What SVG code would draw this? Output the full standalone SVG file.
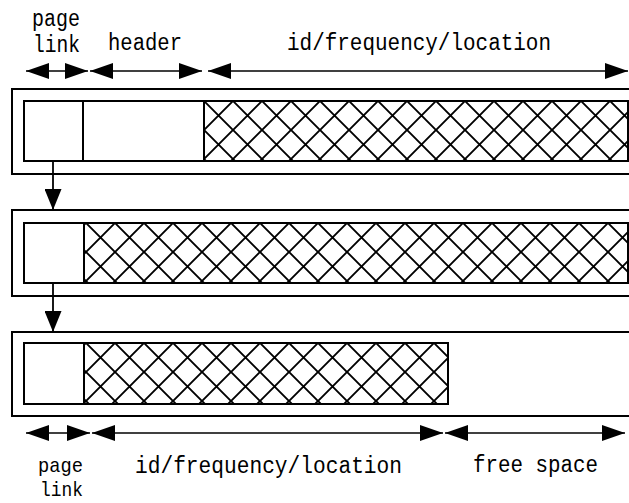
<svg xmlns="http://www.w3.org/2000/svg" width="629" height="503" viewBox="0 0 629 503">
<style>
.box{fill:#fff;stroke:#000;stroke-width:2}
.cell{fill:#fff;stroke:#000;stroke-width:2}
.hatch{fill:url(#xh);stroke:#000;stroke-width:2}
.dim{stroke:#000;stroke-width:1.6;fill:none;marker-start:url(#ah);marker-end:url(#ah)}
.link{stroke:#000;stroke-width:1.8;fill:none;marker-end:url(#av)}
text{font-family:"Liberation Mono","DejaVu Sans Mono",monospace;font-size:23px;fill:#000}
.sm{font-size:21px}
</style>
<defs>
<marker id="ah" markerUnits="userSpaceOnUse" markerWidth="23" markerHeight="16" refX="23" refY="8" orient="auto-start-reverse" viewBox="0 0 23 16">
<path d="M0,0 L23,8 L0,16 Z" fill="#000"/>
</marker>
<marker id="av" markerUnits="userSpaceOnUse" markerWidth="21" markerHeight="17" refX="21" refY="8.5" orient="auto" viewBox="0 0 21 17">
<path d="M0,0 L21,8.5 L0,17 Z" fill="#000"/>
</marker>
<pattern id="xh" patternUnits="userSpaceOnUse" width="29" height="29">
<rect width="29" height="29" fill="#fff"/>
<path d="M0,0 L29,29 M0,29 L29,0" stroke="#000" stroke-width="1.9" fill="none"/>
</pattern>
</defs>

<g id="labels-top">
<text x="32" y="26" textLength="48" lengthAdjust="spacingAndGlyphs">page</text>
<text x="33" y="52" textLength="47" lengthAdjust="spacingAndGlyphs">link</text>
<text x="108" y="50" textLength="74" lengthAdjust="spacingAndGlyphs">header</text>
<text x="287" y="50" textLength="264" lengthAdjust="spacingAndGlyphs">id/frequency/location</text>
</g>

<g id="dims">
<line class="dim" x1="26" y1="71" x2="88" y2="71"/>
<line class="dim" x1="90" y1="71" x2="202" y2="71"/>
<line class="dim" x1="208" y1="71" x2="628" y2="71"/>
<line class="dim" x1="26" y1="433" x2="90" y2="433"/>
<line class="dim" x1="92" y1="433" x2="443" y2="433"/>
<line class="dim" x1="445" y1="433" x2="625" y2="433"/>
</g>

<g id="page1">
<rect class="box" x="12" y="89" width="640" height="85"/>
<rect class="cell" x="24" y="101" width="612" height="60"/>
<g transform="translate(204,101)"><rect class="hatch" x="0" y="0" width="424" height="60"/></g>
<line x1="83" y1="101" x2="83" y2="161" stroke="#000" stroke-width="2"/>
</g>

<g id="page2">
<rect class="box" x="12" y="210" width="640" height="86"/>
<g transform="translate(86,223)"><rect class="hatch" x="-2" y="0" width="544" height="60"/></g>
<rect x="24" y="223" width="604" height="60" fill="none" stroke="#000" stroke-width="2"/>
<line x1="84" y1="223" x2="84" y2="283" stroke="#000" stroke-width="2"/>
</g>

<g id="page3">
<rect class="box" x="12" y="332" width="640" height="84"/>
<g transform="translate(86,343)"><rect class="hatch" x="-2" y="0" width="364" height="61"/></g>
<rect x="24" y="343" width="424" height="61" fill="none" stroke="#000" stroke-width="2"/>
<line x1="84" y1="343" x2="84" y2="404" stroke="#000" stroke-width="2"/>
</g>

<g id="connectors">
<line class="link" x1="53" y1="161" x2="53" y2="210"/>
<line class="link" x1="53" y1="283" x2="53" y2="332"/>
</g>

<g id="labels-bottom">
<text class="sm" x="38" y="472" textLength="45" lengthAdjust="spacingAndGlyphs">page</text>
<text class="sm" x="40" y="496" textLength="43" lengthAdjust="spacingAndGlyphs">link</text>
<text x="135" y="473" textLength="267" lengthAdjust="spacingAndGlyphs">id/frequency/location</text>
<text x="473" y="472" textLength="125" lengthAdjust="spacingAndGlyphs">free space</text>
</g>
</svg>
